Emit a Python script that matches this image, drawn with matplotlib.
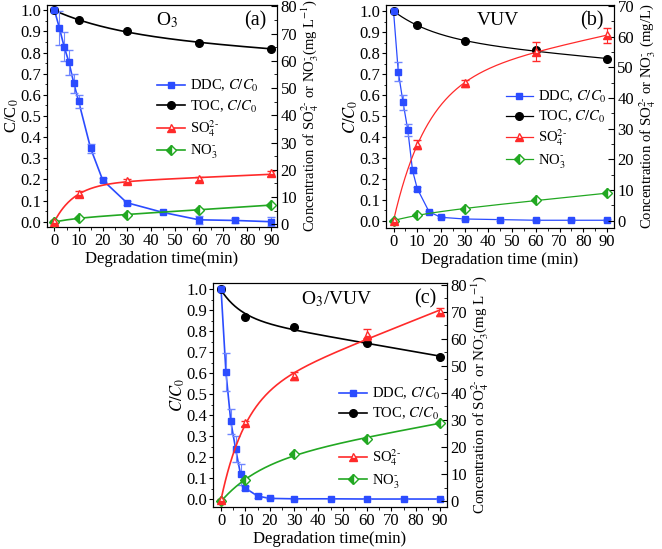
import matplotlib
matplotlib.use('Agg')
import matplotlib.pyplot as plt
import numpy as np
from matplotlib.lines import Line2D
from matplotlib.ticker import MultipleLocator

plt.rcParams['font.family'] = ['Liberation Serif', 'DejaVu Serif']
plt.rcParams['mathtext.fontset'] = 'stix'

########################## data ##########################
t_ddc = [0, 2, 4, 6, 8, 10, 15, 20, 30, 45, 60, 75, 90]
t_ion = [0, 10, 30, 60, 90]

# (a) O3
ddc_a = [1.0, 0.918, 0.828, 0.754, 0.656, 0.57, 0.347, 0.197, 0.09, 0.044, 0.009, 0.006, 0.0]
ddc_a_err = [0.01, 0.08, 0.07, 0.06, 0.045, 0.03, 0.02, 0.01, 0.01, 0.005, 0.02, 0.01, 0.02]
toc_a = [1.0, 0.953, 0.90, 0.847, 0.818]
so4_a = [1.0, 11.1, 15.9, 16.5, 18.7]
so4_a_err = [0.5, 1.0, 0.6, 0.8, 1.0]
no3_a = [0.8, 2.3, 3.5, 5.3, 7.1]

# (b) VUV
ddc_b = [1.0, 0.711, 0.565, 0.434, 0.24, 0.153, 0.042, 0.016, 0.008, 0.005, 0.002, 0.002, 0.002]
ddc_b_err = [0.005, 0.045, 0.036, 0.03, 0.01, 0.01, 0.005, 0.005, 0.005, 0.005, 0.005, 0.005, 0.005]
toc_b = [1.0, 0.936, 0.856, 0.813, 0.773]
so4_b = [0.0, 24.8, 44.8, 55.1, 60.4]
so4_b_err = [0.3, 1.6, 1.2, 3.0, 2.5]
no3_b = [0.0, 1.8, 3.8, 6.7, 8.9]

# (c) O3/VUV
ddc_c = [1.0, 0.605, 0.37, 0.238, 0.118, 0.052, 0.014, 0.003, 0.001, 0.001, 0.0, 0.0, 0.0]
ddc_c_err = [0.01, 0.09, 0.06, 0.06, 0.05, 0.01, 0.01, 0.005, 0.0, 0.0, 0.0, 0.0, 0.0]
toc_c = [1.0, 0.867, 0.819, 0.745, 0.676]
so4_c = [0.5, 28.8, 46.2, 61.5, 70.0]
so4_c_err = [0.3, 1.0, 1.5, 2.0, 1.5]
no3_c = [0.0, 7.7, 17.3, 23.0, 29.0]

blue = '#2b4cff'
red = '#ff2a2a'
green = '#22a822'


def fit_curve(t, y):
    # least squares fit y = a + b*exp(-k t) + c*t, k by grid search
    t = np.asarray(t, float)
    y = np.asarray(y, float)
    best = None
    for k in np.linspace(0.01, 0.12, 200):
        A = np.column_stack([np.ones_like(t), np.exp(-k * t), t])
        coef = np.linalg.lstsq(A, y, rcond=None)[0]
        err = ((A @ coef - y) ** 2).sum()
        if best is None or err < best[0]:
            best = (err, k, coef)
    tt = np.linspace(0, 90, 300)
    k, c = best[1], best[2]
    return tt, c[0] + c[1] * np.exp(-k * tt) + c[2] * tt


def panel(fig, rect, xlim, ylim, y2lim, y2max, ddc, ddc_err, toc, so4, so4_err, no3,
          title, tag, title_x, xlab, ylab, y2lab, leg1, leg2, lw=1.1, y2size=11):
    ax = fig.add_axes(rect)
    ax2 = ax.twinx()

    ax.plot(t_ddc, ddc, color=blue, lw=lw, zorder=2)
    ax.errorbar(t_ddc, ddc, yerr=ddc_err, fmt='s', color=blue, ms=5, mec=blue,
                ecolor='#6f86ff', elinewidth=0.8, capsize=3, zorder=3)
    tt, yy = fit_curve(t_ion, toc)
    ax.plot(tt, yy, color='k', lw=lw, zorder=2)
    ax.plot(t_ion, toc, 'o', color='k', ms=5.5, zorder=3)

    tt, yy = fit_curve(t_ion, so4)
    ax2.plot(tt, yy, color=red, lw=lw, zorder=2)
    ax2.errorbar(t_ion, so4, yerr=so4_err, fmt='^', color=red, ms=6, mec=red, mfc=red,
                 fillstyle='bottom', markerfacecoloralt='white', ecolor=red,
                 elinewidth=0.8, capsize=3, zorder=3)
    tt, yy = fit_curve(t_ion, no3)
    ax2.plot(tt, yy, color=green, lw=lw, zorder=2)
    ax2.plot(t_ion, no3, 'D', color=green, ms=5, mec=green, fillstyle='left',
             markerfacecoloralt='white', zorder=3)

    ax.set_xlim(*xlim)
    ax.set_ylim(*ylim)
    ax2.set_ylim(*y2lim)
    ax.set_xticks(range(0, 91, 10))
    ax.set_yticks(np.arange(0, 1.01, 0.1))
    ax.set_yticklabels(['%.1f' % v for v in np.arange(0, 1.01, 0.1)])
    ax2.set_yticks(range(0, y2max + 1, 10))
    ax.xaxis.set_minor_locator(MultipleLocator(5))
    ax.yaxis.set_minor_locator(MultipleLocator(0.05))
    ax2.yaxis.set_minor_locator(MultipleLocator(5))
    ax.tick_params(which='both', direction='out', labelsize=12, top=False, pad=1)
    ax.tick_params(which='major', length=3)
    ax.tick_params(which='minor', length=1.8)
    ax2.tick_params(which='both', direction='in', labelsize=12, pad=2.5)
    ax2.tick_params(which='major', length=4)
    ax2.tick_params(which='minor', length=2)

    ax.set_xlabel(xlab, fontsize=12, labelpad=2)
    ax.set_ylabel(ylab, fontsize=12, labelpad=0)
    ax2.set_ylabel(y2lab, fontsize=y2size, labelpad=2)

    ax.text(title_x, 0.93, title, transform=ax.transAxes, fontsize=14, ha='center', va='center')
    ax.text(0.905, 0.93, tag, transform=ax.transAxes, fontsize=14.5, ha='center', va='center')

    h_ddc = Line2D([], [], color=blue, lw=lw, marker='s', ms=5, mec=blue)
    h_toc = Line2D([], [], color='k', lw=lw, marker='o', ms=5.5)
    h_so4 = Line2D([], [], color=red, lw=lw, marker='^', ms=6, mec=red, mfc=red,
                   fillstyle='bottom', markerfacecoloralt='white')
    h_no3 = Line2D([], [], color=green, lw=lw, marker='D', ms=5, mec=green,
                   fillstyle='left', markerfacecoloralt='white')
    opts = dict(frameon=False, fontsize=10.5, loc='upper left', borderpad=0, borderaxespad=0,
                handlelength=1.9, handletextpad=0.35, labelspacing=0.28)
    l1 = ax2.legend([h_ddc, h_toc], [r'DDC, $C/C_0$', r'TOC, $C/C_0$'],
                    bbox_to_anchor=leg1, **opts)
    ax2.add_artist(l1)
    ax2.legend([h_so4, h_no3], [r'SO$_4^{2\text{-}}$', r'NO$_3^{\text{-}}$'],
               bbox_to_anchor=leg2, **opts)
    return ax, ax2


fig = plt.figure(figsize=(6.62, 5.49), dpi=100)

panel(fig, [0.071, 0.5865, 0.3474, 0.4044], (-3.1, 92.3), (-0.025, 1.025), (-1, 80.5), 80,
      ddc_a, ddc_a_err, toc_a, so4_a, so4_a_err, no3_a, r'O$_3$', '(a)', 0.52,
      'Degradation time(min)', r'C/C$_0$',
      r'Concentration of SO$_4^{2\text{-}}$ or NO$_3^{\text{-}}$(mg L$^{-1}$)',
      (0.478, 0.67), (0.478, 0.49), lw=1.2, y2size=10.5)

panel(fig, [0.583, 0.5847, 0.3444, 0.4062], (-3.2, 92.9), (-0.035, 1.03), (-2.4, 70.3), 70,
      ddc_b, ddc_b_err, toc_b, so4_b, so4_b_err, no3_b, 'VUV', '(b)', 0.49,
      'Degradation time (min)', r'$C/C_0$',
      r'Concentration of SO$_4^{2\text{-}}$ or NO$_3^{\text{-}}$ (mg/L)',
      (0.525, 0.625), (0.525, 0.45), lw=0.9, y2size=10.6)

panel(fig, [0.3218, 0.0765, 0.3535, 0.408], (-3.3, 92.9), (-0.038, 1.029), (-2.2, 80.7), 80,
      ddc_c, ddc_c_err, toc_c, so4_c, so4_c_err, no3_c, r'O$_3$/VUV', '(c)', 0.53,
      'Degradation time(min)', r'$C/C_0$',
      r'Concentration of SO$_4^{2\text{-}}$ or NO$_3^{\text{-}}$(mg L$^{-1}$)',
      (0.54, 0.54), (0.54, 0.265), lw=1.2, y2size=10.8)

fig.savefig('out.png', dpi=100)
